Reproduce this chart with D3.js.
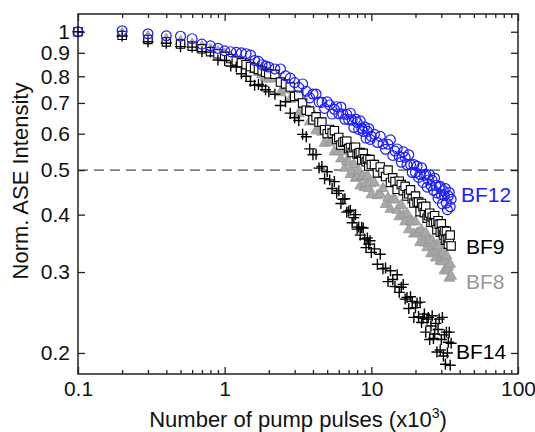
<!DOCTYPE html>
<html>
<head>
<meta charset="utf-8">
<script src="https://cdn.jsdelivr.net/npm/d3@7"></script>
<style>
  body { margin: 0; background: #fff; }
  text { font-family: "Liberation Sans", Arial, sans-serif; }
</style>
</head>
<body>
<script>
// pump pulses (x10^3) at which the intensity was sampled
const pulses = [
  0.1, 0.2, 0.3, 0.4, 0.5, 0.6, 0.7, 0.8, 0.9, 1, 1.1, 1.2, 1.3, 1.4, 1.5, 1.6, 1.7, 1.8, 1.9, 2,
  2.2, 2.4, 2.6, 2.8, 3, 3.2, 3.4, 3.6, 3.8, 4, 4.2, 4.4, 4.6, 4.8, 5, 5.2, 5.4, 5.6, 5.8, 6,
  6.2, 6.4, 6.6, 6.8, 7, 7.2, 7.4, 7.6, 7.8, 8, 8.2, 8.4, 8.6, 8.8, 9, 9.2, 9.4, 9.6, 9.8, 10,
  10.5, 11, 11.5, 12, 12.5, 13, 13.5, 14, 14.5, 15, 15.5, 16, 16.5, 17, 17.5, 18, 18.5, 19, 19.5, 20,
  20.5, 21, 21.5, 22, 22.5, 23, 23.5, 24, 24.5, 25, 25.5, 26, 26.5, 27, 27.5, 28, 28.5, 29, 29.5, 30,
  30.5, 31, 31.5, 32, 32.5, 33, 33.5, 34, 34.5, 35
];

const bf12 = [
  1, 1.005, 0.99, 0.98, 0.978, 0.966, 0.94, 0.932, 0.92, 0.909, 0.905, 0.902, 0.9, 0.896, 0.89, 0.866, 0.862, 0.848, 0.842, 0.838,
  0.83, 0.83, 0.802, 0.793, 0.775, 0.757, 0.77, 0.742, 0.718, 0.732, 0.732, 0.703, 0.702, 0.681, 0.704, 0.693, 0.662, 0.678, 0.687, 0.663,
  0.686, 0.662, 0.645, 0.661, 0.644, 0.665, 0.642, 0.619, 0.646, 0.635, 0.613, 0.64, 0.617, 0.607, 0.621, 0.587, 0.607, 0.616, 0.583, 0.592,
  0.598, 0.574, 0.592, 0.57, 0.555, 0.569, 0.582, 0.538, 0.55, 0.556, 0.535, 0.52, 0.548, 0.533, 0.514, 0.54, 0.514, 0.494, 0.514, 0.494,
  0.51, 0.482, 0.489, 0.506, 0.47, 0.487, 0.49, 0.459, 0.476, 0.488, 0.463, 0.475, 0.452, 0.48, 0.463, 0.446, 0.434, 0.459, 0.461, 0.442,
  0.422, 0.451, 0.44, 0.456, 0.424, 0.41, 0.439, 0.447, 0.416, 0.432
];

const bf9 = [
  1, 0.982, 0.962, 0.95, 0.94, 0.93, 0.918, 0.905, 0.895, 0.884, 0.874, 0.864, 0.856, 0.848, 0.84, 0.834, 0.828, 0.822, 0.816, 0.81,
  0.808, 0.777, 0.77, 0.758, 0.723, 0.728, 0.7, 0.675, 0.672, 0.643, 0.653, 0.636, 0.636, 0.612, 0.6, 0.613, 0.602, 0.609, 0.584, 0.589,
  0.567, 0.575, 0.577, 0.578, 0.557, 0.56, 0.546, 0.559, 0.561, 0.542, 0.544, 0.546, 0.526, 0.544, 0.529, 0.521, 0.528, 0.51, 0.527, 0.514,
  0.514, 0.493, 0.508, 0.494, 0.484, 0.5, 0.47, 0.481, 0.472, 0.454, 0.473, 0.465, 0.451, 0.461, 0.439, 0.444, 0.453, 0.433, 0.424, 0.439,
  0.426, 0.426, 0.406, 0.423, 0.416, 0.404, 0.417, 0.393, 0.398, 0.403, 0.385, 0.395, 0.385, 0.398, 0.384, 0.371, 0.388, 0.381, 0.366, 0.382,
  0.368, 0.361, 0.369, 0.352, 0.368, 0.354, 0.345, 0.356, 0.361, 0.342
];

const bf8 = [
  1, 0.99, 0.975, 0.962, 0.952, 0.94, 0.928, 0.915, 0.905, 0.893, 0.88, 0.868, 0.857, 0.846, 0.836, 0.826, 0.816, 0.806, 0.797, 0.789,
  0.791, 0.737, 0.747, 0.713, 0.727, 0.664, 0.678, 0.675, 0.637, 0.664, 0.609, 0.623, 0.605, 0.572, 0.605, 0.574, 0.583, 0.548, 0.577, 0.548,
  0.529, 0.549, 0.505, 0.523, 0.52, 0.489, 0.498, 0.514, 0.48, 0.482, 0.499, 0.462, 0.483, 0.485, 0.458, 0.469, 0.486, 0.456, 0.467, 0.442,
  0.469, 0.44, 0.443, 0.456, 0.421, 0.435, 0.411, 0.431, 0.431, 0.409, 0.396, 0.419, 0.399, 0.386, 0.402, 0.371, 0.386, 0.386, 0.363, 0.386,
  0.364, 0.365, 0.348, 0.37, 0.36, 0.347, 0.365, 0.339, 0.347, 0.352, 0.329, 0.351, 0.342, 0.33, 0.322, 0.343, 0.331, 0.342, 0.317, 0.328,
  0.316, 0.33, 0.302, 0.322, 0.326, 0.302, 0.308, 0.291, 0.312, 0.294
];

const bf14 = [
  1, 0.979, 0.951, 0.944, 0.928, 0.926, 0.905, 0.903, 0.868, 0.866, 0.842, 0.838, 0.81, 0.8, 0.78, 0.765, 0.768, 0.762, 0.748, 0.74,
  0.731, 0.691, 0.704, 0.665, 0.65, 0.641, 0.598, 0.591, 0.556, 0.54, 0.541, 0.505, 0.509, 0.479, 0.496, 0.476, 0.456, 0.472, 0.445, 0.451,
  0.423, 0.432, 0.433, 0.405, 0.407, 0.409, 0.384, 0.394, 0.4, 0.372, 0.376, 0.361, 0.375, 0.374, 0.354, 0.339, 0.356, 0.345, 0.351, 0.331,
  0.337, 0.312, 0.328, 0.305, 0.306, 0.286, 0.302, 0.289, 0.279, 0.296, 0.271, 0.278, 0.282, 0.262, 0.264, 0.25, 0.265, 0.259, 0.239, 0.251,
  0.257, 0.24, 0.258, 0.233, 0.238, 0.243, 0.222, 0.237, 0.239, 0.214, 0.229, 0.241, 0.215, 0.22, 0.232, 0.201, 0.225, 0.237, 0.203, 0.214,
  0.239, 0.197, 0.219, 0.189, 0.222, 0.2, 0.211, 0.222, 0.188, 0.21
];

const xTickValues = [0.1, 1, 10, 100];
const yTickValues = [1, 0.9, 0.8, 0.7, 0.6, 0.5, 0.4, 0.3, 0.2];

const width = 535;
const height = 432;
const margin = { top: 14, right: 17, bottom: 58, left: 78 };

const svg = d3.select('body').append('svg')
  .attr('width', width)
  .attr('height', height);

const x = d3.scaleLog()
  .domain([0.1, 100])
  .range([margin.left, width - margin.right]);
const y = d3.scaleLog()
  .domain([0.18, 1.093])
  .range([height - margin.bottom, margin.top]);

const x0 = margin.left;
const x1 = width - margin.right;
const y0 = height - margin.bottom;
const y1 = margin.top;

// 50% reference line
svg.append('line')
  .attr('x1', x0).attr('x2', x1)
  .attr('y1', y(0.5)).attr('y2', y(0.5))
  .attr('stroke', '#7f7f7f')
  .attr('stroke-width', 1.6)
  .attr('stroke-dasharray', '10,6');

// markers
const plus = 'M-5.5,0H5.5M0,-5.5V5.5';
const series = [
  { name: 'BF8', values: bf8, path: d3.symbol(d3.symbolTriangle, 50)(), fill: '#a8a8a8', stroke: '#969696', sw: 0.8 },
  { name: 'BF9', values: bf9, path: d3.symbol(d3.symbolSquare, 70)(), fill: '#fff', stroke: '#000', sw: 1.1 },
  { name: 'BF14', values: bf14, path: plus, fill: 'none', stroke: '#000', sw: 1.4 },
  { name: 'BF12', values: bf12, path: d3.symbol(d3.symbolCircle, 76)(), fill: 'none', stroke: '#1c1cff', sw: 1.2 }
];

series.forEach((s) => {
  svg.append('g')
    .attr('class', s.name)
    .selectAll('path')
    .data(s.values.map((v, i) => [pulses[i], v]))
    .enter()
    .append('path')
    .attr('d', s.path)
    .attr('transform', d => `translate(${x(d[0])},${y(d[1])})`)
    .attr('fill', s.fill)
    .attr('stroke', s.stroke)
    .attr('stroke-width', s.sw);
});

// frame + inward ticks
const minorX = x.ticks().filter(d => !xTickValues.includes(d));

function ticks(axis, tx, ty) {
  svg.append('g')
    .attr('transform', `translate(${tx},${ty})`)
    .call(axis)
    .call(g => g.select('.domain').remove())
    .selectAll('line')
    .attr('stroke', '#222')
    .attr('stroke-width', 1.3);
}

ticks(d3.axisBottom(x).tickValues(xTickValues).tickSize(-7).tickFormat(''), 0, y0);
ticks(d3.axisBottom(x).tickValues(minorX).tickSize(-4).tickFormat(''), 0, y0);
ticks(d3.axisTop(x).tickValues(xTickValues).tickSize(-7).tickFormat(''), 0, y1);
ticks(d3.axisTop(x).tickValues(minorX).tickSize(-4).tickFormat(''), 0, y1);
ticks(d3.axisLeft(y).tickValues(yTickValues).tickSize(-7).tickFormat(''), x0, 0);
ticks(d3.axisRight(y).tickValues(yTickValues).tickSize(-7).tickFormat(''), x1, 0);

svg.append('rect')
  .attr('x', x0).attr('y', y1)
  .attr('width', x1 - x0).attr('height', y0 - y1)
  .attr('fill', 'none')
  .attr('stroke', '#222')
  .attr('stroke-width', 1.5);

// tick labels
const xLabels = svg.append('g')
  .attr('transform', `translate(0,${y0})`)
  .call(d3.axisBottom(x).tickValues(xTickValues).tickSize(0).tickPadding(7).tickFormat(d => String(d)));
xLabels.select('.domain').remove();
xLabels.selectAll('text').attr('font-size', 21).attr('fill', '#111')
  .style('font-family', '"Liberation Sans", Arial, sans-serif');

const yLabels = svg.append('g')
  .attr('transform', `translate(${x0},0)`)
  .call(d3.axisLeft(y).tickValues(yTickValues).tickSize(0).tickPadding(8).tickFormat(d => String(d)));
yLabels.select('.domain').remove();
yLabels.selectAll('text').attr('font-size', 21).attr('fill', '#111')
  .style('font-family', '"Liberation Sans", Arial, sans-serif');

// axis titles
const xTitle = svg.append('text')
  .attr('x', (x0 + x1) / 2)
  .attr('y', 427)
  .attr('text-anchor', 'middle')
  .attr('font-size', 22)
  .attr('fill', '#111');
xTitle.append('tspan').text('Number of pump pulses (x10');
xTitle.append('tspan').attr('font-size', 14).attr('dy', -9).text('3');
xTitle.append('tspan').attr('dy', 9).text(')');

svg.append('text')
  .attr('transform', 'translate(28,181) rotate(-90)')
  .attr('text-anchor', 'middle')
  .attr('font-size', 22)
  .attr('fill', '#111')
  .text('Norm. ASE Intensity');

// series labels
const seriesLabels = [
  { text: 'BF12', x: 461, y: 202, color: '#1c1cff' },
  { text: 'BF9', x: 466, y: 254, color: '#000' },
  { text: 'BF8', x: 466, y: 289, color: '#999' },
  { text: 'BF14', x: 456, y: 359, color: '#000' }
];
svg.append('g')
  .selectAll('text')
  .data(seriesLabels)
  .enter()
  .append('text')
  .attr('x', d => d.x)
  .attr('y', d => d.y)
  .attr('font-size', 21)
  .attr('fill', d => d.color)
  .text(d => d.text);
</script>
</body>
</html>
